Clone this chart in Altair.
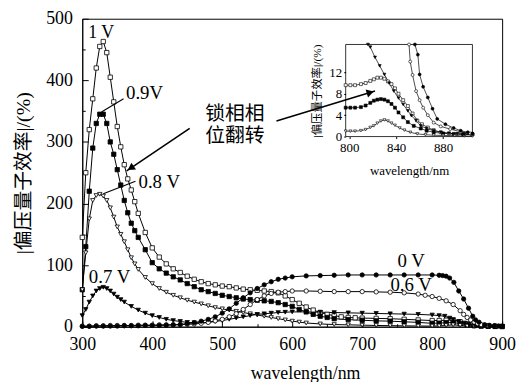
import math
import altair as alt
import pandas as pd

# ---------------- main panel data ----------------
wl_1v = [300,305,310,315,320,325,330,335,340,345,350,355,360,365,370,375,380,390,400,410,420,430,440,450,460,470,480,490,500,510,520,530,540,550,560,570,580,590,600,610,620,630,640,650,660,670,680,690,700,720,740,760,780,800,810,820,830,840,850,860,870,880,890,900]
q_1v = [145,250,320,370,420,455,463,445,405,365,325,292,263,240,222,203,184,153,128,113,102,94,88,82,77,73,70,68,66,65,63,61,60,59,58,57,55,50,44,38,32,27,23,20,18,16,15,14.5,14,13.5,13,12,11,10,10,10.5,10.5,8,5,2.8,1.5,0.9,0.6,0.4]

wl_09v = [300,305,310,315,320,325,330,335,340,345,350,355,360,365,370,375,380,390,400,410,420,430,440,450,460,470,480,490,500,510,520,530,540,550,560,570,580,590,600,610,620,630,640,650,660,680,700,720,740,760,780,800,810,820,830,840,850,860,870,880,890,900]
q_09v = [60,130,220,290,330,345,345,330,300,280,255,230,205,185,168,156,145,125,104,94,87,81,76,70,65,60,57,54,51,49,47,45,44,43,42,41,39,36,33,28,24,20,17,15,13,11.5,10.5,9.5,9,8,7,5.5,5.8,6.5,6.8,5,3,1.6,0.9,0.6,0.4,0.3]

wl_08v = [300,305,310,315,320,325,330,335,340,345,350,355,360,365,370,375,380,390,400,410,420,430,440,450,460,470,480,490,500,510,520,530,540,550,560,570,580,590,600,610,620,640,660,680,700,720,740,760,780,800,810,820,830,840,850,860,870,880,900]
q_08v = [60,120,175,205,213,215,212,205,193,178,162,150,138,125,112,102,93,80,70,62,56,51,47,43,40,37,34,31,29,27,25,23,21,19,17,15,13,11,9,7.5,6,4.5,3.5,3,2.5,2,1.7,1.4,1.1,1,1.2,2,3,2.2,1,0.5,0.3,0.2,0.1]

wl_07v = [300,305,310,315,320,325,330,335,340,345,350,355,360,370,380,390,400,410,420,430,440,450,460,470,480,490,500,510,520,530,540,550,560,570,580,590,600,620,640,660,680,700,720,740,760,780,800,810,818,825,830,838,846,853,861,870,880,890,900]
q_07v = [18,28,40,50,58,62,64,62,58,53,48,44,40,33,27,22,18,15,12,10,8.5,7,6.5,6.5,7,8.5,10,12,14,16,18,20,21,22,23,23.5,24,24,23.5,23,22.5,22,21.5,21,20.5,20,19,18,17,14,11.6,8.5,6,3.9,2,1.2,0.8,0.5,0.4]

wl_06v = [300,310,320,330,340,350,360,370,380,390,400,410,420,430,440,450,460,470,480,490,500,510,520,530,540,550,560,570,580,590,600,620,640,660,680,700,720,740,760,780,790,800,810,820,830,840,845,850,855,860,865,870,880,890,900]
q_06v = [1,1,1.5,1.5,2,2,2,2,2.5,2.5,2.5,3,3,3,3.5,4,4.5,5.5,7,9.5,12,16,21,28,36,44,50,54,56,57,58,58,57.5,57,57,57,56.5,56,55,53,51,49,46,42,36,26,20,15,11,7.5,5,3.5,2,1.2,0.6]

wl_0v = [300,310,320,330,340,350,360,370,380,390,400,410,420,430,440,450,460,470,480,490,500,510,520,530,540,550,560,570,580,590,600,620,640,660,680,700,720,740,760,780,800,810,815,820,825,831,838,845,852,858,862,867,875,882,889,895,900]
q_0v = [0.5,0.5,1,1,1,1,1.5,1.5,1.5,2,2,2,2.5,3,3.5,5,6.5,9,12,16,22,29,38,47,55,62,68,73,77,79,81,82.5,83,83.5,84,84,84,84,84,84,84,83.5,83,82,79,72,58,45,30,17,11,7.3,3.3,2.2,1.6,1.1,0.8]

# ---------------- inset data ----------------
iwl_0v = [856,858.5,860,863,867,871,875,882,889,895,901,905]
iq_0v = [17.2,15.3,11.6,9.3,7.3,5.2,3.3,2.3,1.6,1.1,0.8,0.6]
iwl_06v = [851,852,854,857,860,863,867,872,878,886,895,903]
iq_06v = [17.2,14,11.5,8.5,6.8,5.4,4.0,2.6,1.9,1.4,0.9,0.6]
iwl_07v = [816,818,822,826,830,834,838,842,846,850,853,857,861,866,872,878,885,892,898,905]
iq_07v = [17.2,16.7,14.8,13.2,11.6,10,8.5,7.2,6,4.8,3.9,3,2,1.5,1.1,0.8,0.6,0.5,0.4,0.4]
iwl_1v = [797,801,805,810,814,818,821,824,827,830,833,836,839,842,846,850,854,858,862,867,872,878,885,892,898,905]
iq_1v = [9.6,9.6,9.6,9.8,10,10.4,10.7,11,11,10.8,10.3,9.8,9,8,6.8,5.7,4.3,3,2.3,1.7,1.2,0.8,0.6,0.5,0.45,0.4]
iwl_09v = [797,801,805,810,814,818,821,824,827,830,833,836,839,842,846,850,855,861,866,872,880,889,897,905]
iq_09v = [5.4,5.4,5.4,5.5,5.8,6.3,6.7,6.9,7.0,6.9,6.6,6.1,5.4,4.5,3.6,2.7,2.0,1.5,1.1,0.8,0.6,0.5,0.45,0.4]
iwl_08v = [797,801,805,810,814,818,821,824,827,830,833,836,839,843,847,852,858,865,872,880,890,898,905]
iq_08v = [1.0,1.0,1.0,1.1,1.3,1.7,2.0,2.5,2.9,3.1,2.9,2.5,2.1,1.6,1.2,0.8,0.5,0.35,0.25,0.2,0.15,0.1,0.1]

names = ["1 V", "0.9 V", "0.8 V", "0.7 V", "0.6 V", "0 V"]
shapes = ["square", "square", "triangle-down", "triangle-down", "circle", "circle"]
fills = ["white", "black", "white", "black", "white", "black"]

x_ticks = [300, 400, 500, 600, 700, 800, 900]
x_minor = [350, 450, 550, 650, 750, 850]
y_ticks = [0, 100, 200, 300, 400, 500]
y_minor = [50, 150, 250, 350, 450]
ix_ticks = [800, 840, 880]
iy_ticks = [0, 4, 8, 12]

# annotations (data coordinates)
lab_text = ["1 V", "0.9V", "0.8 V", "0.7 V", "0 V", "0.6 V", "锁相相", "位翻转"]
lab_wl = [327, 389, 410, 339, 770, 770, 518, 518]
lab_q = [476, 380, 235, 80, 106, 67, 346, 309]
lab_size = [18, 19, 19, 19, 19, 19, 20, 20]

lead_wl = [328, 330]
lead_q = [349, 216]
lead_wl2 = [359, 376]
lead_q2 = [370, 236]

arr_wl = [453.5, 577.5]
arr_q = [322, 334]
arr_wl2 = [363.4, 718.3]
arr_q2 = [253, 382.6]


def long_df(parts):
    rows = []
    for name, wl, q in parts:
        for w, v in zip(wl, q):
            rows.append({"series": name, "wl": w, "q": v})
    return pd.DataFrame(rows)


df = long_df([("1 V", wl_1v, q_1v), ("0.9 V", wl_09v, q_09v), ("0.8 V", wl_08v, q_08v),
              ("0.7 V", wl_07v, q_07v), ("0.6 V", wl_06v, q_06v), ("0 V", wl_0v, q_0v)])
dfi = long_df([("1 V", iwl_1v, iq_1v), ("0.9 V", iwl_09v, iq_09v), ("0.8 V", iwl_08v, iq_08v),
               ("0.7 V", iwl_07v, iq_07v), ("0.6 V", iwl_06v, iq_06v), ("0 V", iwl_0v, iq_0v)])

W, H = 424, 311
X_DOM = [300, 900]
Y_DOM = [0, 500]
PX = W / (X_DOM[1] - X_DOM[0])
PY = H / (Y_DOM[1] - Y_DOM[0])

SERIF = "Liberation Serif"
MIXED = "Liberation Serif, Noto Sans CJK SC"

xs = alt.Scale(domain=X_DOM, nice=False, zero=False)
ys = alt.Scale(domain=Y_DOM, nice=False)
shape_sc = alt.Scale(domain=names, range=shapes)
fill_sc = alt.Scale(domain=names, range=fills)

# ---- main curves ----
lines = alt.Chart(df).mark_line(color="black", strokeWidth=1.0).encode(
    x=alt.X("wl:Q", scale=xs, axis=alt.Axis(
        orient="bottom", values=x_ticks, tickSize=0, labelPadding=9, format="d", labelFlush=False,
        title="wavelength/nm", titlePadding=11, titleX=225, grid=False,
        labelFontSize=18, titleFontSize=18, labelFont=SERIF, titleFont=SERIF,
        titleFontWeight="normal")),
    y=alt.Y("q:Q", scale=ys, axis=alt.Axis(
        orient="left", values=y_ticks, tickSize=0, labelPadding=10, format="d", labelFlush=False,
        title="|偏压量子效率|/(%)", titlePadding=12, grid=False,
        labelFontSize=18, titleFontSize=20, labelFont=SERIF, titleFont=MIXED,
        titleFontWeight="normal")),
    detail="series:N",
)
points = alt.Chart(df).mark_point(filled=True, stroke="black", strokeWidth=0.8, size=19, opacity=1).encode(
    x=alt.X("wl:Q", scale=xs, axis=None),
    y=alt.Y("q:Q", scale=ys, axis=None),
    shape=alt.Shape("series:N", scale=shape_sc, legend=None),
    fill=alt.Fill("series:N", scale=fill_sc, legend=None),
)

# inward ticks via opposite-side axes moved onto the frame
major_ticks = alt.Chart(df).mark_point(opacity=0).encode(
    x=alt.X("wl:Q", scale=xs, axis=alt.Axis(orient="top", offset=-H, values=x_ticks, tickSize=6,
                                             labels=False, domain=False, title=None, grid=False)),
    y=alt.Y("q:Q", scale=ys, axis=alt.Axis(orient="right", offset=-W, values=y_ticks, tickSize=6,
                                            labels=False, domain=False, title=None, grid=False)),
)
minor_ticks = alt.Chart(df).mark_point(opacity=0).encode(
    x=alt.X("wl:Q", scale=xs, axis=alt.Axis(orient="top", offset=-H, values=x_minor, tickSize=3,
                                             labels=False, domain=False, title=None, grid=False)),
    y=alt.Y("q:Q", scale=ys, axis=alt.Axis(orient="right", offset=-W, values=y_minor, tickSize=3,
                                            labels=False, domain=False, title=None, grid=False)),
)

# annotations
lab_df = pd.DataFrame({"t": lab_text, "wl": lab_wl, "q": lab_q, "s": lab_size})
labels = alt.Chart(lab_df).mark_text(font=MIXED, align="center", baseline="middle", color="black").encode(
    x=alt.X("wl:Q", scale=xs, axis=None),
    y=alt.Y("q:Q", scale=ys, axis=None),
    text="t:N",
    size=alt.Size("s:Q", scale=None, legend=None),
)

lead_df = pd.DataFrame({"wl": lead_wl, "q": lead_q, "wl2": lead_wl2, "q2": lead_q2})
leaders = alt.Chart(lead_df).mark_rule(color="black", strokeWidth=1.1).encode(
    x=alt.X("wl:Q", scale=xs, axis=None), y=alt.Y("q:Q", scale=ys, axis=None),
    x2="wl2:Q", y2="q2:Q",
)

arr_df = pd.DataFrame({"wl": arr_wl, "q": arr_q, "wl2": arr_wl2, "q2": arr_q2})
arrows = alt.Chart(arr_df).mark_rule(color="black", strokeWidth=1.6).encode(
    x=alt.X("wl:Q", scale=xs, axis=None), y=alt.Y("q:Q", scale=ys, axis=None),
    x2="wl2:Q", y2="q2:Q",
)
heads = []
for a, b, c, d in zip(arr_wl, arr_q, arr_wl2, arr_q2):
    dx = (c - a) * PX
    dy = -(d - b) * PY
    L = math.hypot(dx, dy)
    ang = math.degrees(math.atan2(dx, -dy)) % 360
    back = 5.0
    hx = c - (dx / L) * back / PX
    hy = d + (dy / L) * back / PY
    heads.append({"wl": hx, "q": hy, "ang": ang})
head_df = pd.DataFrame(heads)
arrowheads = alt.Chart(head_df).mark_point(shape="triangle-up", filled=True, color="black", size=70, opacity=1).encode(
    x=alt.X("wl:Q", scale=xs, axis=None), y=alt.Y("q:Q", scale=ys, axis=None),
    angle=alt.Angle("ang:Q", scale=None),
)

# ---------------- inset ----------------
IX_DOM = [797, 905]
IY_DOM = [0, 17.2]
ixs = alt.Scale(domain=IX_DOM, range=[266, 394], nice=False, zero=False)
iys = alt.Scale(domain=IY_DOM, range=[119, 26], nice=False, zero=False)

box_df = pd.DataFrame({"x": [IX_DOM[0]], "x2": [IX_DOM[1]], "y": [IY_DOM[0]], "y2": [IY_DOM[1]]})
ibox = alt.Chart(box_df).mark_rect(filled=False, stroke="black", strokeWidth=0.8).encode(
    x=alt.X("x:Q", scale=ixs, axis=alt.Axis(
        orient="bottom", offset=-(H - 119), values=ix_ticks, tickSize=2, labelPadding=3, format="d",
        labelFlush=False, title="wavelength/nm", titlePadding=10, grid=False, domain=False,
        labelFontSize=13, titleFontSize=13, labelFont=SERIF, titleFont=SERIF, titleFontWeight="normal")),
    x2="x2:Q",
    y=alt.Y("y:Q", scale=iys, axis=alt.Axis(
        orient="left", offset=-266, values=iy_ticks, tickSize=2, labelPadding=2, format="d",
        labelFlush=False, title="|偏压量子效率|/(%)", titlePadding=6, grid=False, domain=False,
        labelFontSize=13, titleFontSize=11.5, labelFont=SERIF, titleFont=MIXED, titleFontWeight="normal")),
    y2="y2:Q",
)
ilines = alt.Chart(dfi).mark_line(color="black", strokeWidth=0.7).encode(
    x=alt.X("wl:Q", scale=ixs, axis=None),
    y=alt.Y("q:Q", scale=iys, axis=None),
    detail="series:N",
)
ipoints = alt.Chart(dfi).mark_point(filled=True, stroke="black", strokeWidth=0.6, size=9, opacity=1).encode(
    x=alt.X("wl:Q", scale=ixs, axis=None),
    y=alt.Y("q:Q", scale=iys, axis=None),
    shape=alt.Shape("series:N", scale=shape_sc, legend=None),
    fill=alt.Fill("series:N", scale=fill_sc, legend=None),
)

chart = alt.layer(
    lines, points, major_ticks, minor_ticks, labels, leaders, arrows, arrowheads,
    ibox, ilines, ipoints,
).resolve_scale(x="independent", y="independent").resolve_axis(
    x="independent", y="independent").properties(
    width=W, height=H,
    autosize=alt.AutoSizeParams(type="none"),
    padding={"left": 75, "top": 9, "right": 14, "bottom": 54},
    background="white",
).configure_view(stroke="black", strokeWidth=1).configure_axis(
    labelColor="black", titleColor="black", domainColor="black", tickColor="black",
    domainWidth=1, tickWidth=1,
)

chart.save("out.html", embed_options={"renderer": "svg", "actions": False})
